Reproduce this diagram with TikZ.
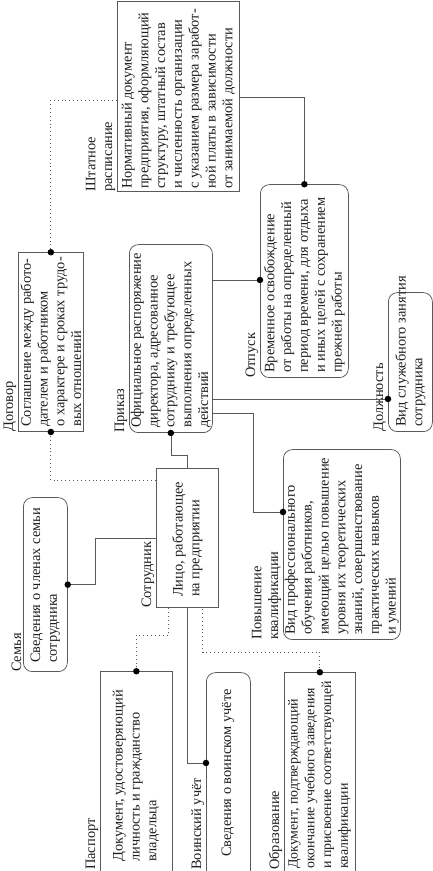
\documentclass[tikz,border=0pt]{standalone}
\usepackage{fontspec}
\setmainfont{Liberation Serif}
\usetikzlibrary{calc}
\definecolor{lc}{HTML}{5A5A5A}
\definecolor{tc}{HTML}{1E1E1E}
\newcommand{\bodyfont}{\fontsize{14.4}{16.8}\selectfont}
\newcommand{\smallbodyfont}{\fontsize{13.9}{16.8}\selectfont}
\begin{document}
\begin{tikzpicture}[x=1pt,y=1pt]
\tikzset{
  sharpbox/.style={draw=lc, line width=0.75pt, anchor=north west, inner sep=0pt},
  roundbox/.style={sharpbox, rounded corners=9pt},
  txt/.style={anchor=west, inner sep=0pt, align=left, font=\bodyfont, text=tc},
  lab/.style={anchor=south west, inner xsep=0pt, inner ysep=1.5pt, align=left, font=\bodyfont, text=tc},
  conn/.style={draw=lc, line width=0.75pt},
  dotconn/.style={draw=lc, line width=0.9pt, dash pattern=on 0.9pt off 3pt},
  jdot/.style={circle, fill=black, inner sep=0pt, minimum size=6.5pt},
}
\useasboundingbox (0,0) rectangle (433,871);
\clip (0,0) rectangle (433,871);
\begin{scope}[rotate=90, transform shape]
% boxes (reader frame: (u,-w))
\node[sharpbox, minimum width=190pt, minimum height=122pt] (shtat) at (679,-117) {};
\node[sharpbox, minimum width=179pt, minimum height=65pt] (dogovor) at (439,-18) {};
\node[roundbox, minimum width=188pt, minimum height=83pt] (prikaz) at (438,-129) {};
\node[roundbox, minimum width=193pt, minimum height=88pt] (otpusk) at (493,-260) {};
\node[roundbox, minimum width=139pt, minimum height=44pt] (dolzh) at (439,-388) {};
\node[sharpbox, minimum width=139pt, minimum height=62pt] (sotr) at (263,-156) {};
\node[roundbox, minimum width=174pt, minimum height=44pt] (semya) at (199,-23) {};
\node[sharpbox, minimum width=229pt, minimum height=72pt] (pasp) at (-30,-100) {};
\node[roundbox, minimum width=228pt, minimum height=44pt] (voin) at (-30,-206) {};
\node[sharpbox, minimum width=228pt, minimum height=71pt] (obraz) at (-30,-284) {};
\node[roundbox, minimum width=190pt, minimum height=117pt] (povysh) at (231,-283) {};
% texts
\node[txt] (shtattxt) at ($(shtat.west)+(3,0)$) {Нормативный документ\\предприятия, оформляющий\\структуру, штатный состав\\и численность организации\\с указанием размера заработ-\\ной платы в зависимости\\от занимаемой должности};
\node[txt] (dogovortxt) at ($(dogovor.west)+(5,0)$) {Соглашение между работо-\\дателем и работником\\о характере и сроках трудо-\\вых отношений};
\node[txt] (prikaztxt) at ($(prikaz.west)+(5,0)$) {Официальное распоряжение\\директора, адресованное\\сотруднику и требующее\\выполнения определенных\\действий};
\node[txt] (otpusktxt) at ($(otpusk.west)+(5,0)$) {Временное освобождение\\от работы на определенный\\период времени, для отдыха\\и иных целей с сохранением\\прежней работы};
\node[txt] (dolzhtxt) at ($(dolzh.west)+(5,0)$) {Вид служебного занятия\\сотрудника};
\node[txt] (sotrtxt) at ($(sotr.west)+(11,0)$) {Лицо, работающее\\на предприятии};
\node[txt] (semyatxt) at ($(semya.west)+(9,0)$) {Сведения о членах семьи\\сотрудника};
\node[txt] (pasptxt) at (9,-136) {Документ, удостоверяющий\\личность и гражданство\\владельца};
\node[txt] (vointxt) at (14,-228) {Сведения о воинском учёте};
\node[txt, font=\smallbodyfont] (obraztxt) at (2,-319.5) {Документ, подтверждающий\\окончание учебного заведения\\и присвоение соответствующей\\квалификации};
\node[txt] (povyshtxt) at ($(povysh.west)+(5,0)$) {Вид профессионального\\обучения работников,\\имеющий целью повышение\\уровня их теоретических\\знаний, совершенствование\\практических навыков\\и умений};
% labels
\node[lab] (shtatlab) at (shtat.north west) {Штатное\\расписание};
\node[lab] (dogovorlab) at (dogovor.north west) {Договор};
\node[lab] (prikazlab) at (prikaz.north west) {Приказ};
\node[lab] (otpusklab) at (otpusk.north west) {Отпуск};
\node[lab] (dolzhlab) at (dolzh.north west) {Должность};
\node[lab] (sotrlab) at (sotr.north west) {Сотрудник};
\node[lab] (semyalab) at (semya.north west) {Семья};
\node[lab] (pasplab) at (1,-100) {Паспорт};
\node[lab] (voinlab) at (1,-206) {Воинский учёт};
\node[lab] (obrazlab) at (1,-284) {Образование};
\node[lab] (povyshlab) at (povysh.north west) {Повышение\\квалификации};
% junction points
\coordinate (voinj) at ($(voin.north west)+(138,0)$);
\coordinate (povyshj) at ($(povysh.north west)+(128,0)$);
\coordinate (dolzhj) at ($(dolzh.north west)+(33,0)$);
\coordinate (otpuskj) at ($(otpusk.north west)+(98,0)$);
% connectors
\draw[dotconn] ($(shtat.north west)+(92,0)$) |- (dogovor.east);
\draw[dotconn] (dogovor.west) -| ($(sotr.north west)+(128,0)$);
\draw[conn] (prikaz.west) -- ++(-22,0) |- (sotr.east);
\draw[conn] (semya.south) -- ++(0,-28) -| (sotr.north);
\draw[dotconn] (pasp.east) -- ++(36,0) |- ($(sotr.north west)+(0,-12)$);
\draw[conn] (voinj) |- (sotr.west);
\draw[dotconn] (obraz.east) -- ++(20,0) |- ($(sotr.south west)+(0,16)$);
\draw[conn] ($(prikaz.south west)+(20,0)$) -- ++(0,-41) -| (povyshj);
\draw[conn] ($(prikaz.south west)+(34,0)$) -- (dolzhj);
\draw[conn] ($(prikaz.south west)+(153,0)$) -- (otpuskj);
\draw[conn] (otpusk.east) -| ($(shtat.south west)+(95,0)$);
% dots
\node[jdot] (j1) at (dogovor.east) {};
\node[jdot] (j2) at (dogovor.west) {};
\node[jdot] (j3) at (prikaz.west) {};
\node[jdot] (j4) at (semya.south) {};
\node[jdot] (j5) at (pasp.east) {};
\node[jdot] (j6) at (voinj) {};
\node[jdot] (j7) at (obraz.east) {};
\node[jdot] (j8) at (povyshj) {};
\node[jdot] (j9) at (dolzhj) {};
\node[jdot] (j10) at (otpuskj) {};
\node[jdot] (j11) at (otpusk.east) {};
\end{scope}
\end{tikzpicture}
\end{document}
